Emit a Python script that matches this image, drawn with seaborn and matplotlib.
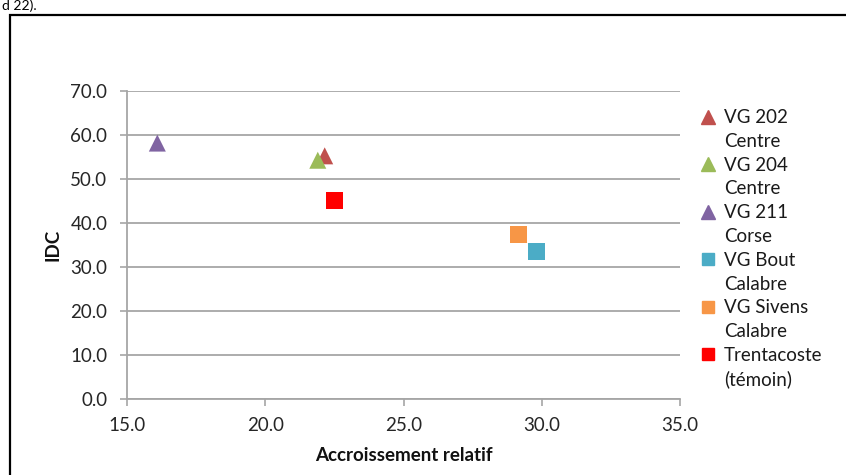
import pandas as pd
import matplotlib.pyplot as plt
import seaborn as sns
from matplotlib.lines import Line2D
from matplotlib.patches import Rectangle

# Varieties (first line = name, second line = origin)
varieties = ['VG 202\nCentre', 'VG 204\nCentre', 'VG 211\nCorse',
             'VG Bout\nCalabre', 'VG Sivens\nCalabre', 'Trentacoste\n(témoin)']
accroissement = [22.15, 21.9, 16.1, 29.8, 29.15, 22.5]
idc = [55.3, 54.3, 58.2, 33.6, 37.5, 45.2]
colors = ['#C0504D', '#9BBB59', '#8064A2', '#4BACC6', '#F79646', '#FF0000']
markers = ['^', '^', '^', 's', 's', 's']

x_ticks = [15.0, 20.0, 25.0, 30.0, 35.0]
y_ticks = [0.0, 10.0, 20.0, 30.0, 40.0, 50.0, 60.0, 70.0]

df = pd.DataFrame({'variete': varieties, 'x': accroissement, 'y': idc})

sns.set_theme(style='white')
plt.rcParams['font.family'] = ['Lato', 'DejaVu Sans']

fig = plt.figure(figsize=(8.46, 4.75), dpi=100)
ax = fig.add_axes([0.150, 0.160, 0.654, 0.648])

grid_col = '#A6A6A6'
for yv in y_ticks:
    ax.axhline(yv, color=grid_col, lw=1.3, zorder=0)

sns.scatterplot(data=df, x='x', y='y', hue='variete', style='variete',
                palette=dict(zip(varieties, colors)),
                markers=dict(zip(varieties, markers)),
                s=150, edgecolor='none', linewidth=0, legend=False, ax=ax, zorder=3)

ax.set_xlim(15, 35)
ax.set_ylim(0, 70)
ax.set_xticks(x_ticks)
ax.set_yticks(y_ticks)
ax.set_xticklabels([f'{v:.1f}' for v in x_ticks])
ax.set_yticklabels([f'{v:.1f}' for v in y_ticks])
ax.tick_params(axis='both', labelsize=13.5, labelcolor='#262626', color=grid_col,
               length=5, width=1.2, direction='out')
ax.tick_params(axis='x', bottom=True, pad=8)
ax.tick_params(axis='y', left=True, pad=9)

for side in ['top', 'right']:
    ax.spines[side].set_visible(False)
for side in ['left', 'bottom']:
    ax.spines[side].set_color(grid_col)
    ax.spines[side].set_linewidth(1.3)

ax.set_xlabel('Accroissement relatif', fontsize=13.5, fontweight='bold',
              color='#111111', labelpad=9)
ax.set_ylabel('IDC', fontsize=13.5, fontweight='bold', color='#111111', labelpad=6)

# legend: marker on the first line, origin on the second
handles, labels = [], []
for name, c, m in zip(varieties, colors, markers):
    first, second = name.split('\n')
    handles.append(Line2D([], [], linestyle='none', marker=m, color=c,
                          markersize=10 if m == '^' else 9))
    labels.append(first)
    handles.append(Line2D([], [], linestyle='none', marker=None))
    labels.append(second)
leg = ax.legend(handles, labels, loc='upper left', bbox_to_anchor=(0.826, 0.770),
                bbox_transform=fig.transFigure, frameon=False, fontsize=13.5,
                handlelength=1.0, handletextpad=0.35, labelspacing=0.36,
                borderpad=0, borderaxespad=0)
for t in leg.get_texts():
    t.set_color('#1a1a1a')

# frame around the chart and caption fragment above it
fig.patches.append(Rectangle((10 / 846, -0.2), 1.0, 0.968 + 0.2,
                             transform=fig.transFigure, fill=False,
                             edgecolor='black', lw=1.6))
fig.text(0.002, 0.978, 'd 22).', fontsize=10, color='black', va='baseline')

fig.savefig('out.png', dpi=100)
